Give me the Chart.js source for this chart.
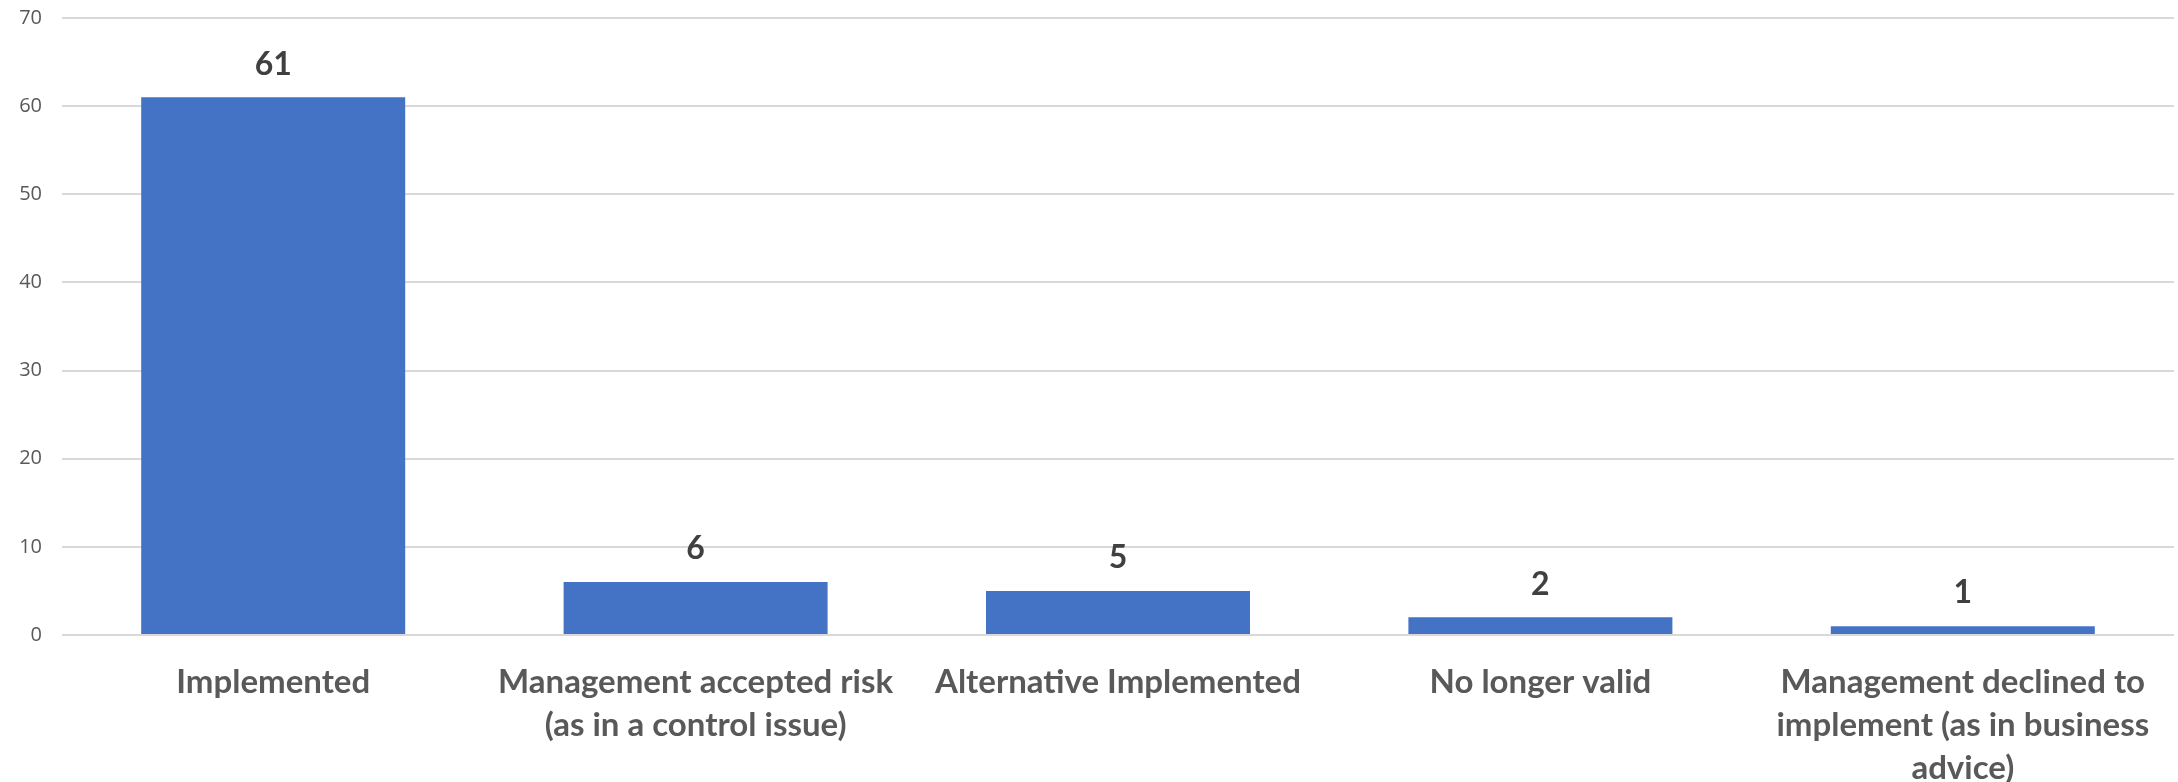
<!DOCTYPE html>
<html>
<head>
<meta charset="utf-8">
<script src="https://cdn.jsdelivr.net/npm/chart.js@4"></script>
<style>
  html, body { margin: 0; padding: 0; background: #ffffff; }
  #wrap { width: 2178px; height: 782px; position: relative; }
</style>
</head>
<body>
<div id="wrap"><canvas id="c"></canvas></div>
<script>
// Recommendation outcomes and their counts
const categories = [
  ["Implemented"],
  ["Management accepted risk", "(as in a control issue)"],
  ["Alternative Implemented"],
  ["No longer valid"],
  ["Management declined to", "implement (as in business", "advice)"]
];
const counts = [61, 6, 5, 2, 1];
const yTicks = [0, 10, 20, 30, 40, 50, 60, 70];

// Draws each bar's value just above it
const valueLabels = {
  id: 'valueLabels',
  afterDatasetsDraw(chart) {
    const ctx = chart.ctx;
    const meta = chart.getDatasetMeta(0);
    ctx.save();
    ctx.font = 'bold 32px Lato, "Open Sans", sans-serif';
    ctx.fillStyle = '#404040';
    ctx.textAlign = 'center';
    ctx.textBaseline = 'middle';
    meta.data.forEach((bar, i) => {
      ctx.fillText(String(chart.data.datasets[0].data[i]), bar.x, bar.y - 33);
    });
    ctx.restore();
  }
};

new Chart(document.getElementById('c'), {
  type: 'bar',
  data: {
    labels: categories,
    datasets: [{
      data: counts,
      backgroundColor: '#4472C4',
      borderWidth: 0,
      categoryPercentage: 0.625,
      barPercentage: 1.0
    }]
  },
  options: {
    responsive: true,
    maintainAspectRatio: false,
    animation: false,
    layout: { padding: { top: 18, left: 0, right: 4, bottom: 0 } },
    plugins: {
      legend: { display: false },
      tooltip: { enabled: false }
    },
    scales: {
      x: {
        grid: { display: false, drawTicks: false },
        border: { display: false },
        afterFit(axis) { axis.height = 147; },
        ticks: {
          color: '#595959',
          padding: 26,
          maxRotation: 0,
          autoSkip: false,
          font: { family: 'Lato, "Open Sans", sans-serif', size: 33, weight: 'bold', lineHeight: 1.3 }
        }
      },
      y: {
        min: 0,
        max: 70,
        afterBuildTicks(axis) { axis.ticks = yTicks.map(v => ({ value: v })); },
        afterFit(axis) {
          axis.width = 62;
          axis.paddingTop = 0;
          axis.paddingBottom = 0;
        },
        grid: { color: '#d9d9d9', lineWidth: 2, drawTicks: false },
        border: { display: false },
        ticks: {
          color: '#595959',
          padding: 20,
          font: { family: '"Open Sans", sans-serif', size: 20 }
        }
      }
    }
  },
  plugins: [valueLabels]
});
</script>
</body>
</html>
